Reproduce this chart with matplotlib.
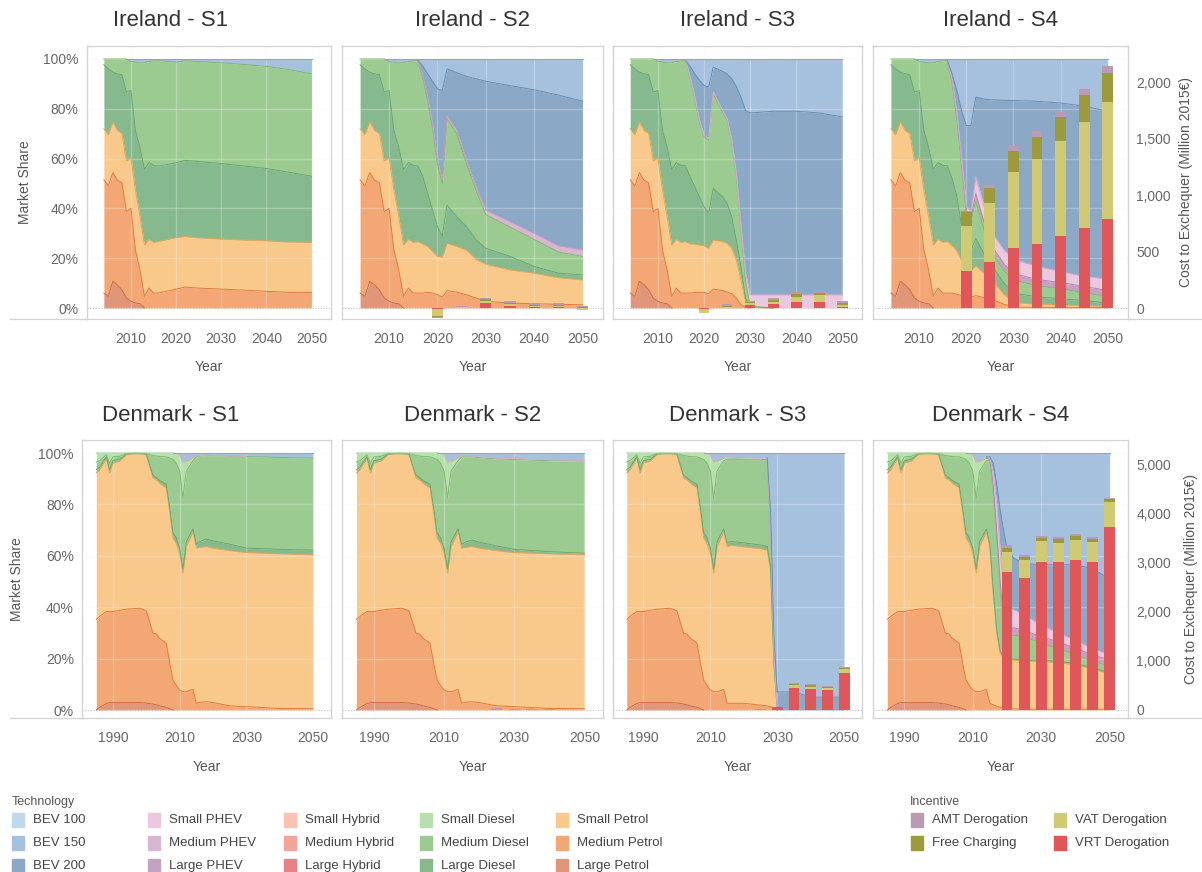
import numpy as np
import matplotlib.pyplot as plt
from matplotlib.patches import Rectangle
from matplotlib.lines import Line2D
import matplotlib.colors as mcolors

plt.rcParams['font.family'] = ['Liberation Sans', 'DejaVu Sans']

# legend order; the stack is drawn the other way round (Large Petrol at the bottom)
technologies = ['BEV 100', 'BEV 150', 'BEV 200',
                'Small PHEV', 'Medium PHEV', 'Large PHEV',
                'Small Hybrid', 'Medium Hybrid', 'Large Hybrid',
                'Small Diesel', 'Medium Diesel', 'Large Diesel',
                'Small Petrol', 'Medium Petrol', 'Large Petrol']
tech_colors = ['#bfd8ec', '#a5c1dd', '#8ba8c7',
               '#eac8e0', '#d9b6d0', '#c4a3c0',
               '#fcc1b3', '#f6a397', '#e88088',
               '#b7e0ae', '#9ccb91', '#86b98e',
               '#f9c98b', '#f3a774', '#e09679']

incentives = ['VRT Derogation', 'VAT Derogation', 'Free Charging', 'AMT Derogation']
incentive_colors = ['#e15759', '#d0ca74', '#9d9a3c', '#b99cb3']

bar_years = [2020, 2025, 2030, 2035, 2040, 2045, 2050]

# ---- Ireland: market share (%) ----
ie_hist_years = [2004, 2005, 2006, 2007, 2008, 2009, 2010, 2011, 2012, 2013, 2014, 2015, 2016]
ie_hist = {
    'Large Petrol':  [6.0, 4.7, 10.7, 9.3, 7.3, 4.0, 2.7, 2.0, 1.7, 0, 0, 0, 0],
    'Medium Petrol': [45.5, 44.3, 43.7, 42.0, 43.0, 34.7, 37.3, 21.3, 13.6, 4.7, 8.0, 6.0, 6.0],
    'Small Petrol':  [20.5, 20.6, 20.3, 20.0, 19.7, 20.3, 20.3, 24.0, 21.4, 20.6, 19.6, 20.4, 20.7],
    'Large Diesel':  [25.7, 26.4, 20.0, 22.7, 23.7, 27.7, 27.0, 24.0, 28.0, 30.3, 30.8, 30.9, 30.3],
    'Medium Diesel': [2.3, 4.0, 5.3, 6.0, 6.3, 13.3, 11.7, 27.4, 33.6, 42.9, 40.6, 41.9, 42.3],
    'BEV 150':       [0, 0, 0, 0, 0, 0, 1.0, 1.3, 1.7, 1.5, 1.0, 0.8, 0.7],
}

ie_s1_years = [2020, 2022, 2025, 2030, 2035, 2040, 2045, 2050]
ie_s1 = {
    'Medium Petrol': [7.6, 8.4, 8.0, 7.6, 7.2, 6.7, 6.3, 6.3],
    'Small Petrol':  [20.7, 20.3, 20.2, 20.1, 20.1, 20.3, 20.2, 20.1],
    'Large Diesel':  [30.0, 30.6, 30.6, 30.3, 29.7, 29.0, 28.0, 26.5],
    'Medium Diesel': [40.4, 40.0, 40.2, 40.4, 40.8, 41.0, 41.2, 41.1],
    'BEV 150':       [1.3, 0.7, 1.0, 1.6, 2.2, 3.0, 4.3, 6.0],
}

ie_s2_years = [2017, 2018, 2019, 2020, 2021, 2022, 2024, 2026, 2028, 2030, 2035, 2040, 2045, 2050]
ie_s2 = {
    'Medium Petrol': [6.0, 6.3, 6.0, 5.3, 4.4, 7.0, 6.4, 5.3, 4.0, 2.7, 2.0, 1.7, 1.5, 1.3],
    'Small Petrol':  [19.7, 18.4, 16.7, 15.4, 16.0, 19.0, 18.3, 18.0, 15.5, 14.9, 13.3, 12.3, 10.7, 10.0],
    'Large Diesel':  [27.0, 21.3, 16.6, 12.0, 8.6, 15.3, 12.0, 9.4, 7.8, 6.4, 5.4, 2.7, 1.8, 2.0],
    'Medium Diesel': [39.3, 37.0, 32.7, 25.3, 21.0, 34.7, 33.3, 25.3, 20.0, 13.5, 11.8, 10.8, 8.5, 7.4],
    'Medium PHEV':   [0.7, 1.0, 1.3, 1.3, 1.3, 1.3, 1.3, 1.3, 1.4, 1.8, 2.2, 2.5, 2.5, 2.6],
    'BEV 200':       [4.3, 10.0, 17.7, 28.7, 36.0, 18.7, 23.2, 33.7, 43.3, 51.7, 54.6, 57.6, 60.5, 59.7],
    'BEV 150':       [3.0, 6.0, 9.0, 12.0, 12.7, 4.0, 5.5, 7.0, 8.0, 9.0, 10.7, 12.4, 14.5, 17.0],
}

ie_s3_years = [2017, 2018, 2019, 2020, 2021, 2022, 2024, 2025, 2026, 2027, 2028, 2029, 2030,
               2035, 2040, 2045, 2050]
ie_s3 = {
    'Medium Petrol': [6.0, 6.3, 6.3, 6.3, 5.7, 7.6, 7.0, 6.4, 5.7, 4.0, 1.3, 0.3, 0, 0, 0, 0, 0],
    'Small Petrol':  [19.7, 19.4, 19.0, 18.7, 18.3, 19.7, 19.7, 19.6, 18.3, 15.3, 10.0, 2.4, 0.3, 0, 0, 0, 0],
    'Large Diesel':  [27.0, 23.0, 19.4, 15.7, 14.0, 20.7, 18.0, 16.0, 12.7, 8.0, 5.4, 1.3, 0.4, 0, 0, 0, 0],
    'Medium Diesel': [39.5, 35.5, 30.1, 28.1, 29.5, 38.2, 34.1, 33.5, 30.1, 26.1, 15.1, 7.0, 0, 0, 0, 0, 0],
    'Small PHEV':    [0.5, 0.5, 0.5, 0.5, 0.5, 0.5, 0.5, 0.5, 0.5, 0.6, 0.9, 3.0, 4.6, 5.3, 5.3, 5.3, 5.3],
    'BEV 200':       [4.3, 9.3, 16.2, 20.0, 20.7, 10.0, 15.7, 18.0, 24.7, 35.0, 52.0, 65.3, 73.0,
                      73.7, 73.7, 73.0, 71.4],
    'BEV 150':       [3.0, 6.0, 8.5, 10.7, 11.3, 3.3, 5.0, 6.0, 8.0, 11.0, 15.3, 20.7, 21.7,
                      21.0, 21.0, 21.7, 23.3],
}

ie_s4_years = [2017, 2018, 2019, 2020, 2021, 2022, 2024, 2026, 2028, 2030, 2035, 2040, 2045, 2050]
ie_s4 = {
    'Medium Petrol': [6.0, 5.5, 5.0, 4.5, 4.3, 5.0, 4.0, 3.0, 1.5, 0.4, 0.3, 0.2, 0.2, 0.2],
    'Small Petrol':  [19.0, 17.5, 14.0, 11.5, 10.7, 12.0, 9.5, 7.0, 4.0, 1.8, 1.2, 1.0, 0.8, 0.4],
    'Large Diesel':  [27.0, 22.0, 14.0, 9.0, 8.0, 11.0, 7.5, 5.5, 4.5, 3.8, 3.0, 2.5, 2.0, 1.4],
    'Medium Diesel': [38.0, 31.5, 24.5, 13.5, 12.0, 15.0, 9.0, 5.0, 5.0, 5.2, 4.5, 4.0, 3.2, 2.5],
    'Large PHEV':    [0.5, 0.5, 0.7, 0.8, 1.2, 3.0, 3.0, 2.8, 2.7, 2.6, 2.5, 2.5, 2.5, 2.5],
    'Small PHEV':    [0.8, 1.0, 1.1, 1.4, 2.5, 6.7, 6.3, 5.4, 5.6, 5.8, 5.2, 4.5, 4.0, 4.6],
    'BEV 200':       [2.7, 9.3, 20.0, 32.6, 34.6, 32.0, 44.5, 54.8, 60.1, 63.7, 66.3, 67.6, 68.3, 67.4],
    'BEV 150':       [6.0, 12.7, 20.7, 26.7, 26.7, 15.3, 16.2, 16.5, 16.6, 16.7, 17.0, 17.7, 19.0, 21.0],
}

# ---- Denmark: market share (%) ----
dk_hist_years = [1985, 1986, 1988, 1989, 1990, 1992, 1994, 1996, 1998, 2000, 2002,
                 2003, 2004, 2006, 2007, 2008, 2009, 2010, 2011, 2012, 2014]
dk_hist = {
    'Large Petrol':  [0, 1.0, 2.5, 2.9, 2.9, 2.9, 2.9, 2.9, 2.9, 2.7, 2.3,
                      2.0, 1.6, 1.0, 0.5, 0, 0, 0, 0, 0, 0],
    'Medium Petrol': [35.3, 35.4, 35.8, 35.4, 35.4, 35.9, 36.3, 36.5, 36.7, 35.9, 27.6,
                      27.6, 26.3, 25.0, 18.0, 11.7, 9.5, 7.8, 7.1, 7.1, 8.0],
    'Small Petrol':  [56.9, 57.1, 59.7, 53.9, 57.8, 58.0, 60.2, 60.3, 60.1, 60.8, 60.4,
                      60.0, 60.4, 60.4, 58.8, 55.2, 55.4, 53.2, 46.1, 56.5, 61.5],
    'Large Diesel':  [1.3, 1.0, 0.5, 1.3, 0.9, 0.7, 0.2, 0.1, 0.1, 0.2, 1.0,
                      0.9, 1.0, 1.4, 1.7, 2.1, 2.1, 2.0, 1.8, 1.9, 1.0],
    'Medium Diesel': [3.0, 2.5, 0.8, 2.5, 1.5, 1.2, 0.2, 0.1, 0.1, 0.2, 7.7,
                      8.3, 9.3, 10.7, 19.0, 28.5, 29.0, 30.0, 27.5, 27.5, 26.5],
    'Small Diesel':  [3.5, 3.0, 0.7, 4.0, 1.5, 1.3, 0.2, 0.1, 0.1, 0.2, 1.0,
                      1.2, 1.4, 1.5, 2.0, 2.5, 3.8, 6.5, 14.0, 3.5, 1.0],
    'Small PHEV':    [0, 0, 0, 0, 0, 0, 0, 0, 0, 0, 0,
                      0, 0, 0, 0, 0, 0, 0, 0.3, 0.5, 0.5],
    'BEV 150':       [0, 0, 0, 0, 0, 0, 0, 0, 0, 0, 0,
                      0, 0, 0, 0, 0, 0.2, 0.5, 3.2, 3.0, 1.5],
}

dk_s1_years = [2015, 2016, 2018, 2020, 2025, 2030, 2040, 2050]
dk_s1 = {
    'Medium Petrol': [2.6, 3.0, 3.2, 2.9, 1.6, 1.3, 0.6, 0.5],
    'Small Petrol':  [60.4, 60.3, 60.4, 60.1, 60.4, 60.0, 60.2, 59.9],
    'Large Diesel':  [1.5, 2.2, 2.9, 2.8, 2.5, 1.7, 1.7, 1.8],
    'Medium Diesel': [34.0, 33.3, 32.5, 33.2, 34.3, 35.6, 35.8, 35.8],
    'Small Diesel':  [0.3, 0.1, 0, 0, 0, 0, 0, 0],
    'Small PHEV':    [0.2, 0.2, 0.2, 0.1, 0.1, 0, 0, 0],
    'BEV 150':       [1.0, 0.9, 0.8, 0.9, 1.1, 1.4, 1.7, 2.0],
}

dk_s2_years = [2015, 2016, 2018, 2020, 2025, 2030, 2040, 2050]
dk_s2 = {
    'Medium Petrol': [2.6, 3.0, 3.2, 2.9, 1.6, 1.3, 0.6, 0.5],
    'Small Petrol':  [60.4, 60.3, 60.4, 60.1, 60.4, 60.0, 60.2, 59.9],
    'Large Diesel':  [1.5, 2.0, 2.5, 2.3, 1.8, 1.2, 0.8, 0.6],
    'Medium Diesel': [34.0, 33.3, 32.4, 32.9, 33.9, 35.0, 35.4, 35.9],
    'Small Diesel':  [0.3, 0.1, 0, 0, 0, 0, 0, 0],
    'Small PHEV':    [0.2, 0.3, 0.3, 0.3, 0.3, 0.3, 0.3, 0.2],
    'BEV 150':       [1.0, 1.0, 1.2, 1.5, 2.0, 2.2, 2.7, 2.9],
}

dk_s3_years = [2015, 2016, 2020, 2025, 2027, 2028, 2029, 2030, 2035, 2040, 2045, 2050]
dk_s3 = {
    'Medium Petrol': [2.6, 2.6, 2.6, 1.9, 1.6, 1.3, 0.5, 0, 0, 0, 0, 0],
    'Small Petrol':  [60.9, 61.5, 60.9, 60.9, 60.6, 53.1, 17.5, 0, 0, 0, 0, 0],
    'Large Diesel':  [1.5, 1.5, 1.5, 1.4, 1.4, 1.2, 0.5, 0, 0, 0, 0, 0],
    'Medium Diesel': [32.5, 32.0, 32.5, 33.3, 33.9, 14.4, 3.5, 0, 0, 0, 0, 0],
    'Small Diesel':  [0.5, 0.3, 0.2, 0, 0, 0, 0, 0, 0, 0, 0, 0],
    'Small PHEV':    [0.5, 0.5, 0.5, 0.5, 0.5, 0.5, 0.3, 0, 0, 0, 0, 0],
    'BEV 200':       [0, 0, 0, 0, 0, 7.0, 7.0, 7.0, 7.0, 5.0, 5.0, 5.0],
    'BEV 150':       [1.5, 1.6, 1.8, 2.0, 2.0, 22.5, 70.7, 93.0, 93.0, 95.0, 95.0, 95.0],
}

dk_s4_years = [2015, 2016, 2017, 2018, 2019, 2020, 2022, 2025, 2030, 2035, 2040, 2045, 2050]
dk_s4 = {
    'Medium Petrol': [2.6, 2.0, 1.5, 1.0, 0.7, 0.5, 0.4, 0.3, 0.3, 0.3, 0.3, 0.3, 0.3],
    'Small Petrol':  [60.4, 43.0, 28.5, 21.0, 19.3, 19.0, 18.9, 18.7, 18.5, 18.2, 17.2, 15.7, 13.7],
    'Large Diesel':  [1.5, 1.5, 1.5, 1.0, 0.7, 0.5, 0.5, 0.5, 0.5, 0.5, 0.5, 0.5, 0.5],
    'Medium Diesel': [32.5, 37.5, 35.5, 24.0, 11.3, 8.0, 9.2, 9.0, 6.7, 5.0, 3.5, 2.5, 2.5],
    'Small Diesel':  [0.5, 1.0, 1.0, 0.5, 0, 0, 0, 0, 0, 0, 0, 0, 0],
    'Large PHEV':    [0.1, 2.0, 2.0, 2.5, 3.0, 3.0, 3.0, 2.5, 2.5, 2.5, 2.5, 2.5, 2.5],
    'Small PHEV':    [0.2, 5.0, 10.0, 12.0, 12.0, 9.0, 7.0, 6.0, 4.5, 3.5, 3.0, 2.5, 2.0],
    'BEV 200':       [0.7, 4.0, 8.0, 16.0, 23.0, 23.0, 20.0, 20.0, 23.5, 26.5, 29.5, 31.0, 29.5],
    'BEV 150':       [1.5, 4.0, 12.0, 22.0, 30.0, 37.0, 41.0, 43.0, 43.5, 43.5, 43.5, 45.0, 49.0],
}

# ---- cost to exchequer (million 2015 EUR) ----
ie_s2_cost = {
    'VRT Derogation': [-10, 5, 44, 23, 15, 15, 6],
    'VAT Derogation': [-62, 5, 23, 15, 9, 9, -12],
    'Free Charging':  [-3, 3, 12, 9, 6, 6, 4],
    'AMT Derogation': [-8, 10, 13, 18, 18, 18, 12],
}
ie_s3_cost = {
    'VRT Derogation': [-3, 5, 29, 35, 53, 56, 15],
    'VAT Derogation': [-35, 10, 15, 23, 50, 62, 15],
    'Free Charging':  [0, 5, 9, 15, 20, 20, 15],
    'AMT Derogation': [-3, 15, 12, 20, 18, 15, 18],
}
ie_s4_cost = {
    'VRT Derogation': [329, 412, 529, 571, 638, 709, 788],
    'VAT Derogation': [397, 517, 677, 750, 838, 938, 1038],
    'Free Charging':  [127, 136, 188, 197, 215, 241, 256],
    'AMT Derogation': [12, 29, 38, 47, 50, 53, 62],
}
dk_s2_cost = {
    'AMT Derogation': [0, 35, 30, 25, 10, 0, 0],
}
dk_s3_cost = {
    'VRT Derogation': [0, 0, 68, 455, 428, 407, 747],
    'VAT Derogation': [0, 0, 0, 47, 47, 47, 81],
    'Free Charging':  [0, 0, 0, 34, 34, 20, 20],
    'AMT Derogation': [0, 14, 0, 20, 20, 14, 20],
}
dk_s4_cost = {
    'VRT Derogation': [2817, 2681, 3001, 3001, 3049, 3001, 3718],
    'VAT Derogation': [396, 375, 430, 396, 416, 410, 518],
    'Free Charging':  [82, 48, 68, 82, 68, 68, 48],
    'AMT Derogation': [54, 41, 41, 41, 48, 41, 34],
}

W, H = 1202, 872
GRID = '#d4d4d4'
TXT = '#666666'


def build(hist_years, hist, tail_years, tail):
    years = np.array(hist_years + tail_years, dtype=float)
    out = {}
    for tech in technologies:
        h = hist.get(tech, [0.0] * len(hist_years))
        t = tail.get(tech, [0.0] * len(tail_years))
        out[tech] = np.array(list(h) + list(t), dtype=float)
    return years, out


def edge_color(c):
    # same hue, a bit more saturated and darker than the fill
    h, s, v = mcolors.rgb_to_hsv(mcolors.to_rgb(c))
    return mcolors.hsv_to_rgb((h, min(1.0, s * 1.4), v * 0.92))


def draw_areas(ax, years, shares):
    base = np.zeros_like(years)
    for tech, color in zip(technologies[::-1], tech_colors[::-1]):
        vals = shares[tech]
        if not vals.any():
            continue
        top = base + vals
        ax.fill_between(years, base, top, color=color, lw=0, zorder=2)
        on = vals > 0
        on = on | np.r_[on[1:], False] | np.r_[False, on[:-1]]
        ax.plot(years, np.ma.masked_where(~on, top), color=edge_color(color), lw=0.75, zorder=3)
        base = top


def draw_bars(ax, cost, width):
    x = np.array(bar_years, dtype=float)
    up = np.zeros(len(x))
    down = np.zeros(len(x))
    for name, color in zip(incentives, incentive_colors):
        if name not in cost:
            continue
        v = np.array(cost[name], dtype=float)
        pos = np.where(v > 0, v, 0)
        neg = np.where(v < 0, v, 0)
        ax.bar(x, pos, width, bottom=up, color=color, lw=0, zorder=4)
        ax.bar(x, neg, width, bottom=down, color=color, lw=0, zorder=4)
        up += pos
        down += neg


def px_axes(fig, x0, x1, y0, y1):
    return fig.add_axes([x0 / W, 1 - y1 / H, (x1 - x0) / W, (y1 - y0) / H])


fig = plt.figure(figsize=(W / 100, H / 100), dpi=100)

rows = [
    dict(country='Ireland', y=(46, 319), cols=[(86.7, 331), (341.7, 603.3), (612.7, 862.3), (873, 1128)],
         xlim=(2000.2, 2054.3), xticks=[2010, 2020, 2030, 2040, 2050], ylim=(-4.4, 105.2),
         clim=(-95, 2321), cticks=[0, 500, 1000, 1500, 2000], barw=2.3,
         hist=(ie_hist_years, ie_hist),
         panels=[(ie_s1_years, ie_s1, None), (ie_s2_years, ie_s2, ie_s2_cost),
                 (ie_s3_years, ie_s3, ie_s3_cost), (ie_s4_years, ie_s4, ie_s4_cost)],
         title_y=20, year_y=367, ylab=(25, 182), clab=(1186, 182)),
    dict(country='Denmark', y=(440, 718), cols=[(82.3, 331), (341.7, 603.3), (612.7, 862.3), (873, 1128)],
         xlim=(1980.8, 2055.4), xticks=[1990, 2010, 2030, 2050], ylim=(-3.11, 105.06),
         clim=(-163, 5493), cticks=[0, 1000, 2000, 3000, 4000, 5000], barw=3.2,
         hist=(dk_hist_years, dk_hist),
         panels=[(dk_s1_years, dk_s1, None), (dk_s2_years, dk_s2, dk_s2_cost),
                 (dk_s3_years, dk_s3, dk_s3_cost), (dk_s4_years, dk_s4, dk_s4_cost)],
         title_y=415, year_y=767, ylab=(17, 579), clab=(1191, 579)),
]

for row in rows:
    y0, y1 = row['y']
    for i, ((x0, x1), (tail_years, tail, cost)) in enumerate(zip(row['cols'], row['panels'])):
        ax = px_axes(fig, x0, x1, y0, y1)
        years, shares = build(row['hist'][0], row['hist'][1], tail_years, tail)
        draw_areas(ax, years, shares)
        ax.axhline(0, color='#b0b0b0', lw=0.8, ls=(0, (1, 1.5)), zorder=1)
        ax.set_xlim(*row['xlim'])
        ax.set_ylim(*row['ylim'])
        ax.set_xticks(row['xticks'])
        ax.set_yticks([0, 20, 40, 60, 80, 100])
        ax.set_yticklabels(['%d%%' % v for v in [0, 20, 40, 60, 80, 100]] if i == 0 else [])
        ax.tick_params(length=0, labelsize=10, colors=TXT)
        ax.tick_params(axis='x', pad=9)
        ax.tick_params(axis='y', pad=6)
        ax.set_axisbelow(False)
        ax.grid(color='#f2f2f2', alpha=0.3, lw=1.0, zorder=2.5)
        for sp in ax.spines.values():
            sp.set_color(GRID)
            sp.set_linewidth(1.0)

        tw = ax.twinx()
        tw.set_ylim(*row['clim'])
        for sp in tw.spines.values():
            sp.set_visible(False)
        if cost is not None:
            draw_bars(tw, cost, row['barw'])
        if i == 3:
            tw.set_yticks(row['cticks'])
            tw.set_yticklabels(['{:,}'.format(v) for v in row['cticks']])
            tw.tick_params(length=0, labelsize=10, colors=TXT, pad=6)
        else:
            tw.set_yticks([])

        title_x = (10 + x1) / 2 if i == 0 else (x0 + x1) / 2
        fig.text(title_x / W, 1 - row['title_y'] / H, '%s - S%d' % (row['country'], i + 1),
                 ha='center', va='center', fontsize=16, color='#333333')
        fig.text((x0 + x1) / 2 / W, 1 - row['year_y'] / H, 'Year',
                 ha='center', va='center', fontsize=10, color='#555555')

    # outer pane borders next to the axes areas
    left = row['cols'][0][0]
    fig.add_artist(Line2D([10 / W, left / W], [1 - y1 / H] * 2, color=GRID, lw=1.0))
    fig.add_artist(Line2D([1128 / W, 1202 / W], [1 - y1 / H] * 2, color=GRID, lw=1.0))
    fig.text(row['ylab'][0] / W, 1 - row['ylab'][1] / H, 'Market Share', rotation=90,
             ha='center', va='center', fontsize=10, color='#555555')
    fig.text(row['clab'][0] / W, 1 - row['clab'][1] / H, 'Cost to Exchequer (Million 2015€)',
             rotation=90, ha='center', va='center', fontsize=10, color='#555555')

# technology legend, column by column
fig.text(12 / W, 1 - 802 / H, 'Technology', ha='left', va='center', fontsize=9, color='#555555')
for k, (tech, color) in enumerate(zip(technologies, tech_colors)):
    col, r = divmod(k, 3)
    sx = 12 + col * 136
    sy = 820 + r * 23
    fig.add_artist(Rectangle((sx / W, 1 - (sy + 7) / H), 12 / W, 14 / H, color=color,
                             transform=fig.transFigure))
    fig.text((sx + 21) / W, 1 - sy / H, tech, ha='left', va='center', fontsize=9.5, color='#444444')

# incentive legend
fig.text(910 / W, 1 - 802 / H, 'Incentive', ha='left', va='center', fontsize=9, color='#555555')
legend_inc = ['AMT Derogation', 'Free Charging', 'VAT Derogation', 'VRT Derogation']
for k, name in enumerate(legend_inc):
    col, r = divmod(k, 2)
    sx = 911 + col * 143
    sy = 820 + r * 23
    color = incentive_colors[incentives.index(name)]
    fig.add_artist(Rectangle((sx / W, 1 - (sy + 7) / H), 12 / W, 14 / H, color=color,
                             transform=fig.transFigure))
    fig.text((sx + 21) / W, 1 - sy / H, name, ha='left', va='center', fontsize=9.5, color='#444444')

fig.savefig('out.png', dpi=100)
